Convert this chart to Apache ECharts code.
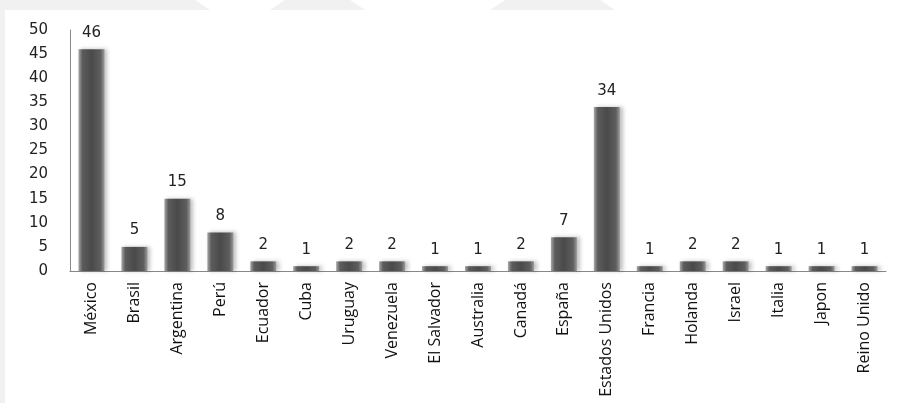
<!DOCTYPE html>
<html>
<head>
<meta charset="utf-8">
<script src="https://cdn.jsdelivr.net/npm/echarts@6/dist/echarts.min.js"></script>
<style>
html,body{margin:0;padding:0;background:#fff;}
#c{width:898px;height:403px;}
</style>
</head>
<body>
<div id="c"></div>
<script>
const categories = ['México','Brasil','Argentina','Perú','Ecuador','Cuba','Uruguay','Venezuela','El Salvador','Australia','Canadá','España','Estados Unidos','Francia','Holanda','Israel','Italia','Japon','Reino Unido'];
const values = [46,5,15,8,2,1,2,2,1,1,2,7,34,1,2,2,1,1,1];
const yTicks = [0,5,10,15,20,25,30,35,40,45,50];

const chart = echarts.init(document.getElementById('c'), null, {renderer:'canvas'});
const barGrad = new echarts.graphic.LinearGradient(0,0,1,0,[
  {offset:0,color:'#a8a8a8'},
  {offset:0.15,color:'#5c5c5c'},
  {offset:0.5,color:'#4a4a4a'},
  {offset:0.85,color:'#5e5e5e'},
  {offset:1,color:'#9a9a9a'}
]);
chart.setOption({
  animation:false,
  backgroundColor:'#ffffff',
  graphic:[
    {type:'rect',shape:{x:0,y:0,width:898,height:10},style:{fill:'#f1f1f1'},z:-10},
    {type:'rect',shape:{x:0,y:0,width:5,height:403},style:{fill:'#f1f1f1'},z:-10},
    {type:'polygon',shape:{points:[[195,0],[285,0],[270,10],[210,10]]},style:{fill:'#ffffff'},z:-9},
    {type:'polygon',shape:{points:[[350,0],[505,0],[490,10],[365,10]]},style:{fill:'#ffffff'},z:-9},
    {type:'polygon',shape:{points:[[600,0],[898,0],[898,10],[615,10]]},style:{fill:'#ffffff'},z:-9}
  ],
  grid:{left:70,right:12,top:30,bottom:132,containLabel:false},
  xAxis:{
    type:'category',
    data:categories,
    axisLine:{show:true,lineStyle:{color:'#888',width:1}},
    axisTick:{show:false},
    axisLabel:{rotate:90,interval:0,margin:11,color:'#111',fontSize:16,
      fontFamily:"'Liberation Sans Narrow','Open Sans',sans-serif"}
  },
  yAxis:{
    type:'value',min:0,max:50,interval:5,
    axisLine:{show:true,lineStyle:{color:'#888',width:1}},
    axisTick:{show:false},
    splitLine:{show:false},
    axisLabel:{margin:22,color:'#222',fontSize:15,fontFamily:"'DejaVu Sans',sans-serif",
      formatter:function(v){return yTicks.indexOf(v)>=0?String(v):'';}}
  },
  series:[{
    type:'bar',
    data:values,
    barWidth:26,
    itemStyle:{color:barGrad,shadowColor:'rgba(0,0,0,0.25)',shadowBlur:4,shadowOffsetX:3},
    label:{show:true,position:'top',distance:9,color:'#222',fontSize:15,
      fontFamily:"'DejaVu Sans',sans-serif"}
  }]
});
</script>
</body>
</html>
